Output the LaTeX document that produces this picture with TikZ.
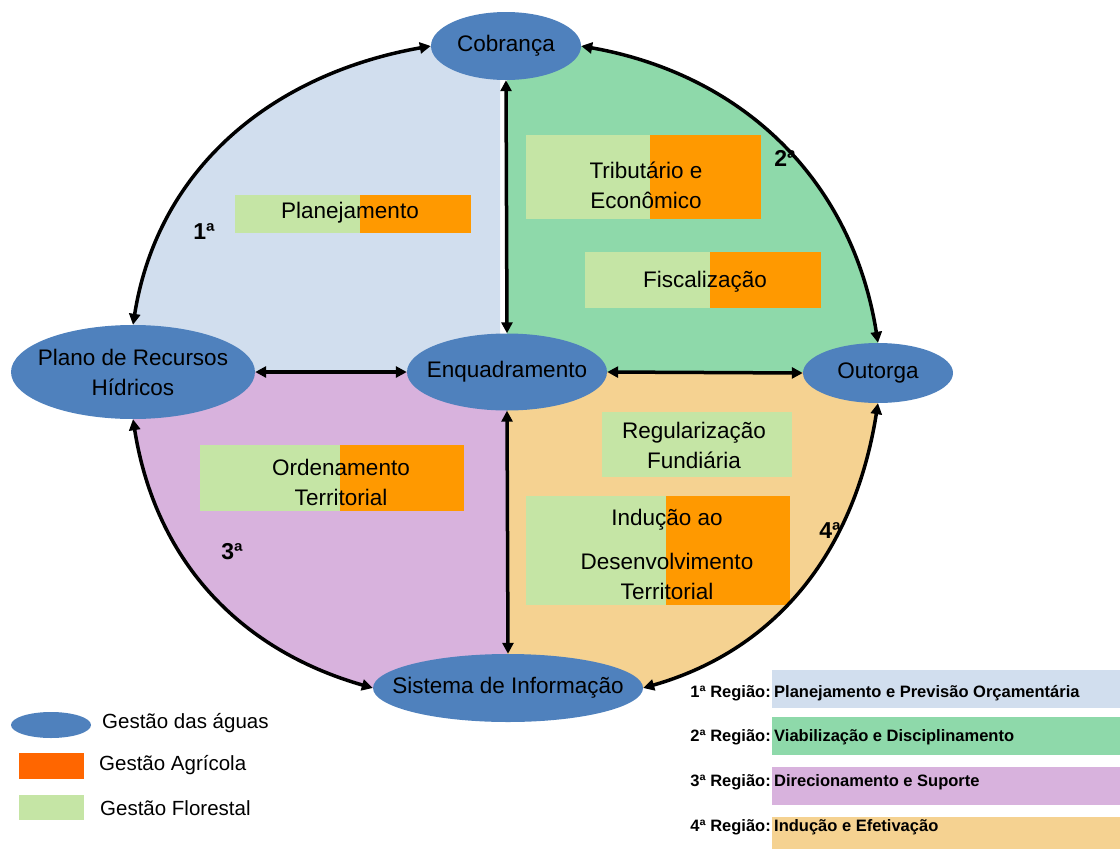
\documentclass[tikz,border=0pt]{standalone}
\usepackage{fontspec}
\setmainfont{Liberation Sans}
\usetikzlibrary{shapes.geometric,arrows.meta,backgrounds}
\definecolor{ellblue}{HTML}{4F81BD}
\definecolor{regA}{HTML}{D1DEEE}
\definecolor{regB}{HTML}{8ED9AA}
\definecolor{regC}{HTML}{D8B2DD}
\definecolor{regD}{HTML}{F5D291}
\definecolor{boxgreen}{HTML}{C5E5A5}
\definecolor{boxorange}{HTML}{FF9900}
\definecolor{legorange}{HTML}{FF6600}
\begin{document}
\begin{tikzpicture}[x=1pt,y=1pt,
  ell/.style={ellipse, fill=ellblue, draw=none, inner sep=0pt},
  txt/.style={font=\fontsize{22.5}{30}\selectfont, align=center, inner sep=0pt, text=black},
  lbl/.style={font=\fontsize{23}{27}\selectfont\bfseries, inner sep=0pt},
  legtxt/.style={font=\fontsize{20.5}{24}\selectfont, inner sep=0pt, anchor=west},
  regtxt/.style={font=\fontsize{16.5}{20}\selectfont\bfseries, inner sep=0pt},
  conn/.style={line width=3.5pt, {Triangle[length=11pt,width=11pt]}-{Triangle[length=11pt,width=11pt]}}]
\useasboundingbox (0,0) rectangle (1120,-849);

% water-management ellipses
\node[ell, minimum width=150pt, minimum height=68pt] (cob) at (506,-46) {};
\node[ell, minimum width=244pt, minimum height=94pt] (plano) at (133,-372) {};
\node[ell, minimum width=200pt, minimum height=77pt] (enq) at (507,-372) {};
\node[ell, minimum width=150pt, minimum height=60pt] (out) at (878,-373) {};
\node[ell, minimum width=270pt, minimum height=68pt] (sis) at (508,-688) {};

\node[txt] (cobt) at (cob) {Cobrança};
\node[txt] (planot) at (plano) {Plano de Recursos\\Hídricos};
\node[txt] (enqt) at (enq) {Enquadramento};
\node[txt] (outt) at (out) {Outorga};
\node[txt] (sist) at (sis) {Sistema de Informação};

% region fills
\begin{scope}[on background layer]
\fill[regA] (500,-372) -- (500,-46) -- (cob.west) to[out=190,in=81] (plano.north) -- (133,-372) -- cycle;
\fill[regB] (507,-372) -- (507,-46) -- (cob.east) to[out=-10,in=99] (out.north) -- (878,-372) -- cycle;
\fill[regC] (507,-372) -- (133,-372) -- (plano.south) to[out=-81,in=164] (sis.west) -- (507,-688) -- cycle;
\fill[regD] (507,-372) -- (878,-372) -- (out.south) to[out=-99,in=16] (sis.east) -- (507,-688) -- cycle;
\end{scope}

% boxes
\fill[boxgreen] (235,-195) rectangle (360,-233);
\fill[boxorange] (360,-195) rectangle (471,-233);
\node[txt] (planej) at (350,-213) {Planejamento};

\fill[boxgreen] (526,-135) rectangle (650,-219);
\fill[boxorange] (650,-135) rectangle (761,-219);
\node[txt] (trib) at (646,-185) {Tributário e\\Econômico};

\fill[boxgreen] (585,-252) rectangle (710,-308);
\fill[boxorange] (710,-252) rectangle (821,-308);
\node[txt] (fisc) at (705,-282) {Fiscalização};

\fill[boxgreen] (602,-412) rectangle (792,-477);
\node[txt] (regul) at (694,-445) {Regularização\\Fundiária};

\fill[boxgreen] (526,-496) rectangle (666,-605);
\fill[boxorange] (666,-496) rectangle (790,-605);
\node[txt] (induc) at (667,-554) {Indução ao\\[14pt]Desenvolvimento\\Territorial};

\fill[boxgreen] (200,-445) rectangle (340,-511);
\fill[boxorange] (340,-445) rectangle (464,-511);
\node[txt] (orden) at (341,-482) {Ordenamento\\Territorial};

% region numbers
\node[lbl] (n1) at (204,-232) {1ª};
\node[lbl] (n2) at (785,-158) {2ª};
\node[lbl] (n3) at (232,-552) {3ª};
\node[lbl] (n4) at (830,-531) {4ª};

% connectors
\draw[conn] (cob.west) to[out=190,in=81] (plano.north);
\draw[conn] (cob.east) to[out=-10,in=99] (out.north);
\draw[conn] (plano.south) to[out=-81,in=164] (sis.west);
\draw[conn] (out.south) to[out=-99,in=16] (sis.east);
\draw[conn] (cob.south) -- (enq.north);
\draw[conn] (enq.south) -- (sis.north);
\draw[conn] (plano.east) -- (enq.west);
\draw[conn] (enq.east) -- (out.west);

% left legend
\node[ell, minimum width=80pt, minimum height=26pt] (legell) at (51,-725) {};
\node[legtxt] (legellt) at (102,-723) {Gestão das águas};
\fill[legorange] (19,-753) rectangle (84,-779);
\node[legtxt] (legor) at (99,-765) {Gestão Agrícola};
\fill[boxgreen] (19,-795) rectangle (84,-820);
\node[legtxt] (leggr) at (100,-808) {Gestão Florestal};

% right legend
\fill[regA] (772,-670) rectangle (1120,-708);
\fill[regB] (772,-717) rectangle (1120,-755);
\fill[regC] (772,-767) rectangle (1120,-805);
\fill[regD] (772,-817) rectangle (1120,-849);
\node[regtxt, anchor=base east] (r1a) at (771,-697) {1ª Região:};
\node[regtxt, anchor=base west] (r1b) at (774,-697) {Planejamento e Previsão Orçamentária};
\node[regtxt, anchor=base east] (r2a) at (771,-741) {2ª Região:};
\node[regtxt, anchor=base west] (r2b) at (774,-741) {Viabilização e Disciplinamento};
\node[regtxt, anchor=base east] (r3a) at (771,-786) {3ª Região:};
\node[regtxt, anchor=base west] (r3b) at (774,-786) {Direcionamento e Suporte};
\node[regtxt, anchor=base east] (r4a) at (771,-831) {4ª Região:};
\node[regtxt, anchor=base west] (r4b) at (774,-831) {Indução e Efetivação};
\end{tikzpicture}
\end{document}
